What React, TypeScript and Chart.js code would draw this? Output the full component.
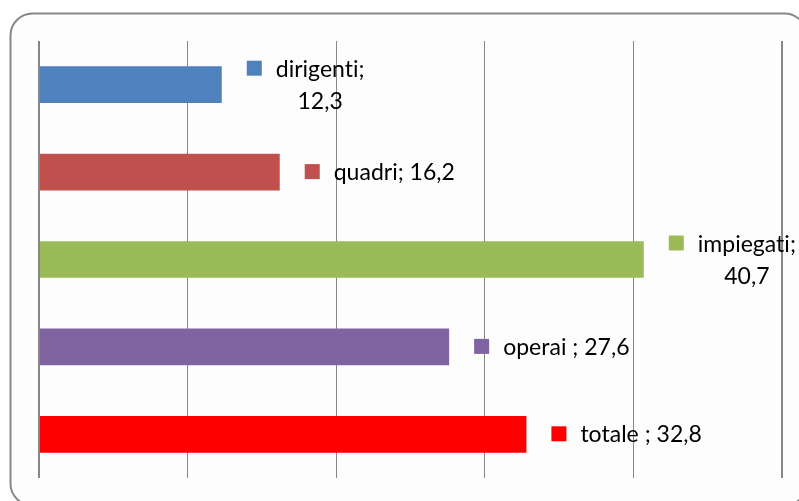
import React, { useEffect, useRef } from "react";
import { Chart, registerables } from "chart.js";

Chart.register(...registerables);

// ---- data ----
const categories = ["dirigenti", "quadri", "impiegati", "operai ", "totale "];
const values = [12.3, 16.2, 40.7, 27.6, 32.8];
const colors = ["#4F81BD", "#C0504D", "#9BBB59", "#8064A2", "#FF0000"];
const wrapLabel = [true, false, true, false, false];
const axisMin = 0;
const axisMax = 50;
const axisStep = 10;

const fmt = (v: number) => v.toFixed(1).replace(".", ",");

const labelLines = (i: number): string[] =>
  wrapLabel[i]
    ? [`${categories[i]};`, fmt(values[i])]
    : [`${categories[i]}; ${fmt(values[i])}`];

const FONT = "23px Lato";

const framePlugin = {
  id: "frame",
  beforeDraw(chart: any) {
    const ctx = chart.ctx as CanvasRenderingContext2D;
    ctx.save();
    ctx.fillStyle = "#ffffff";
    ctx.fillRect(0, 0, chart.width, chart.height);
    ctx.beginPath();
    (ctx as any).roundRect(10.5, 13.5, 796, 492, 22);
    ctx.fillStyle = "#fdfdfd";
    ctx.fill();
    ctx.lineWidth = 2;
    ctx.strokeStyle = "#888888";
    ctx.stroke();
    ctx.restore();
  },
};

const labelPlugin = {
  id: "barLabels",
  afterDatasetsDraw(chart: any) {
    const ctx = chart.ctx as CanvasRenderingContext2D;
    const meta = chart.getDatasetMeta(0);
    ctx.save();
    ctx.font = FONT;
    (ctx as any).letterSpacing = "0.01px";
    ctx.textBaseline = "alphabetic";
    ctx.textAlign = "left";
    const L = 32;
    const capH = 16;
    meta.data.forEach((bar: any, i: number) => {
      const lines = labelLines(i);
      const n = lines.length;
      const sqX = bar.x + 25;
      const textX = sqX + 29;
      const base0 = bar.y - ((n - 1) * L) / 2 + capH / 2;
      // legend key square
      ctx.fillStyle = colors[i];
      ctx.fillRect(sqX, base0 - 8.5 - 7.5, 15, 15);
      const widths = lines.map((t) => ctx.measureText(t).width);
      const maxW = Math.max(...widths);
      ctx.fillStyle = "#000000";
      lines.forEach((t, k) => {
        const x = textX + (maxW - widths[k]) / 2;
        ctx.fillText(t, x, base0 + k * L);
      });
    });
    ctx.restore();
  },
};

export default function App() {
  const ref = useRef<HTMLCanvasElement | null>(null);

  useEffect(() => {
    if (!ref.current) return;
    const chart = new Chart(ref.current, {
      type: "bar",
      data: {
        labels: categories,
        datasets: [
          {
            data: values,
            backgroundColor: colors,
            borderWidth: 0,
            categoryPercentage: 1,
            barPercentage: 0.42,
          },
        ],
      },
      options: {
        indexAxis: "y",
        animation: false,
        responsive: false,
        devicePixelRatio: 1,
        layout: { padding: { left: 39, right: 17, top: 41, bottom: 23 } },
        plugins: {
          legend: { display: false },
          tooltip: { enabled: false },
          title: { display: false },
        },
        scales: {
          x: {
            min: axisMin,
            max: axisMax,
            ticks: { display: false, stepSize: axisStep },
            border: { display: false },
            grid: {
              drawTicks: false,
              color: "#868686",
              lineWidth: (c: any) =>
                c.index === 0 || c.index === (axisMax - axisMin) / axisStep ? 2 : 1,
            },
            afterFit: (s: any) => {
              s.height = 0;
            },
          },
          y: { display: false },
        },
      },
      plugins: [framePlugin, labelPlugin],
    } as any);
    return () => chart.destroy();
  }, []);

  return (
    <div style={{ position: "fixed", left: 0, top: 0, width: 799, height: 501, overflow: "hidden" }}>
      <canvas ref={ref} width={799} height={501} style={{ display: "block" }} />
    </div>
  );
}
